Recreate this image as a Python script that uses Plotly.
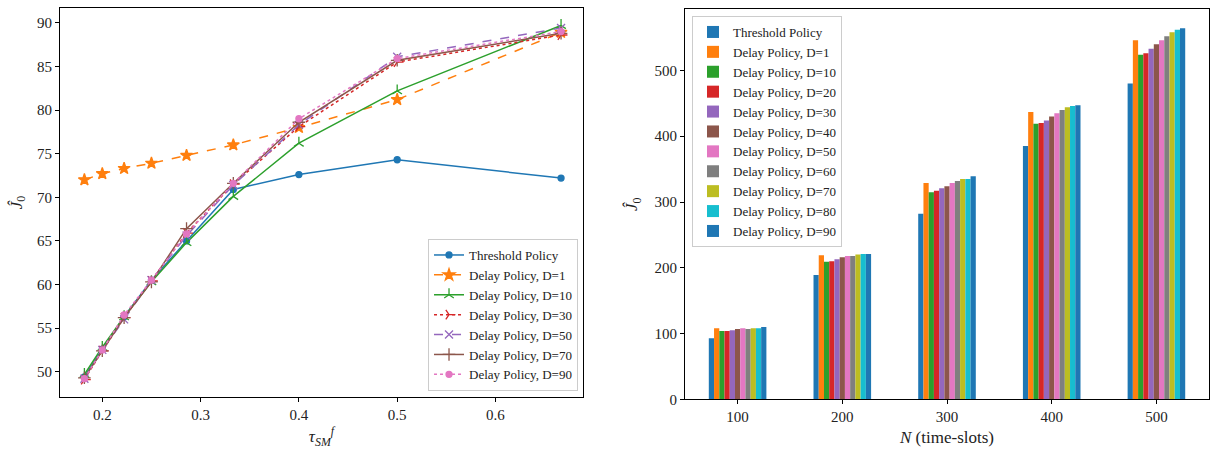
import plotly.graph_objects as go

# ---------------- data: left panel ----------------
tau = [0.1818, 0.2, 0.2222, 0.25, 0.2857, 0.3333, 0.4, 0.5, 0.6667]
j_threshold = [49.4, 52.6, 56.3, 60.5, 65.0, 70.9, 72.6, 74.3, 72.2]
j_d1 = [72.0, 72.7, 73.3, 73.9, 74.8, 76.0, 78.0, 81.2, 88.9]
j_d10 = [49.7, 52.8, 56.3, 60.3, 64.8, 70.1, 76.2, 82.2, 89.7]
j_d30 = [49.1, 52.4, 56.2, 60.4, 65.9, 71.5, 78.1, 85.5, 88.6]
j_d50 = [49.2, 52.5, 56.0, 60.5, 65.6, 71.4, 78.3, 86.1, 89.4]
j_d70 = [49.3, 52.4, 56.2, 60.3, 66.4, 71.6, 78.6, 85.7, 88.8]
j_d90 = [49.2, 52.5, 56.5, 60.5, 65.8, 71.6, 79.0, 85.9, 89.0]

# ---------------- data: right panel ----------------
n_slots = [100, 200, 300, 400, 500]
bar_names = ["Threshold Policy", "Delay Policy, D=1", "Delay Policy, D=10",
             "Delay Policy, D=20", "Delay Policy, D=30", "Delay Policy, D=40",
             "Delay Policy, D=50", "Delay Policy, D=60", "Delay Policy, D=70",
             "Delay Policy, D=80", "Delay Policy, D=90"]
bar_values = [
    [93, 189, 282, 385, 480],
    [108, 219, 329, 437, 546],
    [104, 209, 315, 419, 524],
    [104, 210, 317, 420, 526],
    [105, 213, 321, 424, 533],
    [107, 216, 324, 430, 540],
    [108, 218, 329, 435, 546],
    [107, 218, 332, 440, 552],
    [108, 220, 335, 444, 558],
    [108, 221, 335, 446, 562],
    [110, 221, 339, 447, 564],
]

C = ["#1f77b4", "#ff7f0e", "#2ca02c", "#d62728", "#9467bd", "#8c564b",
     "#e377c2", "#7f7f7f", "#bcbd22", "#17becf"]
bar_colors = C + [C[0]]

FONT = "Liberation Serif"
fig = go.Figure()

line_specs = [
    ("Threshold Policy", j_threshold, C[0], "solid", "circle", 6),
    ("Delay Policy, D=1", j_d1, C[1], "dash", "star", 9),
    ("Delay Policy, D=10", j_d10, C[2], "solid", "y-up", 8),
    ("Delay Policy, D=30", j_d30, C[3], "dot", "y-right", 8),
    ("Delay Policy, D=50", j_d50, C[4], "dash", "x-thin", 8),
    ("Delay Policy, D=70", j_d70, C[5], "solid", "cross-thin", 9),
    ("Delay Policy, D=90", j_d90, C[6], "dot", "circle", 6),
]
for name, ys, col, dash, sym, sz in line_specs:
    fig.add_trace(go.Scatter(
        x=tau, y=ys, name=name, mode="lines+markers",
        line=dict(color=col, width=1.5, dash=dash),
        marker=dict(symbol=sym, size=sz, color=col,
                    line=dict(color=col, width=1.3)),
        xaxis="x", yaxis="y", legend="legend"))

for name, vals, col in zip(bar_names, bar_values, bar_colors):
    fig.add_trace(go.Bar(
        x=n_slots, y=vals, name=name, marker=dict(color=col, line=dict(width=0)),
        xaxis="x2", yaxis="y2", legend="legend2"))

axis_common = dict(showgrid=False, zeroline=False, showline=True, linecolor="black",
                   linewidth=1, mirror=True, ticks="outside", ticklen=4,
                   tickcolor="black", automargin=False,
                   tickfont=dict(family=FONT, size=15, color="#222"))

fig.update_layout(
    width=1210, height=451,
    margin=dict(l=0, r=0, t=0, b=0),
    paper_bgcolor="white", plot_bgcolor="white",
    font=dict(family=FONT, color="#222"),
    barmode="group", bargap=0.45, bargroupgap=0,
    xaxis=dict(domain=[0.0496, 0.4818], range=[0.157, 0.689],
               tickvals=[0.2, 0.3, 0.4, 0.5, 0.6], ticktext=["0.2", "0.3", "0.4", "0.5", "0.6"],
               title=dict(text="<i>τ</i><sub><i>SM</i></sub><sup><i>f</i></sup>",
                          font=dict(family=FONT, size=17), standoff=8),
               anchor="y", **axis_common),
    yaxis=dict(domain=[0.1197, 0.9823], range=[47.1, 91.7],
               tickvals=[50, 55, 60, 65, 70, 75, 80, 85, 90],
               title=dict(text="<i>Ĵ</i><sub>0</sub>", font=dict(family=FONT, size=17), standoff=10),
               anchor="x", **axis_common),
    xaxis2=dict(domain=[0.5661, 0.9992], range=[49.75, 550.25],
                tickvals=n_slots, ticktext=[str(v) for v in n_slots],
                title=dict(text="<i>N</i> (time-slots)", font=dict(family=FONT, size=17), standoff=6),
                anchor="y2", **axis_common),
    yaxis2=dict(domain=[0.1146, 0.9794], range=[0, 593],
                tickvals=[0, 100, 200, 300, 400, 500],
                title=dict(text="<i>Ĵ</i><sub>0</sub>", font=dict(family=FONT, size=17), standoff=12),
                anchor="x2", **axis_common),
    legend=dict(x=0.4777, y=0.133, xanchor="right", yanchor="bottom",
                bgcolor="rgba(255,255,255,0.85)", bordercolor="#cccccc", borderwidth=1,
                font=dict(family=FONT, size=13, color="#222"), tracegroupgap=0,
                itemwidth=30),
    legend2=dict(x=0.5719, y=0.9645, xanchor="left", yanchor="top",
                 bgcolor="rgba(255,255,255,0.85)", bordercolor="#cccccc", borderwidth=1,
                 font=dict(family=FONT, size=13, color="#222"), tracegroupgap=0,
                 itemwidth=30),
)

fig.write_html("out.html", config={"displayModeBar": False},
               post_script="document.body.style.margin='0';document.body.style.overflow='hidden';")
